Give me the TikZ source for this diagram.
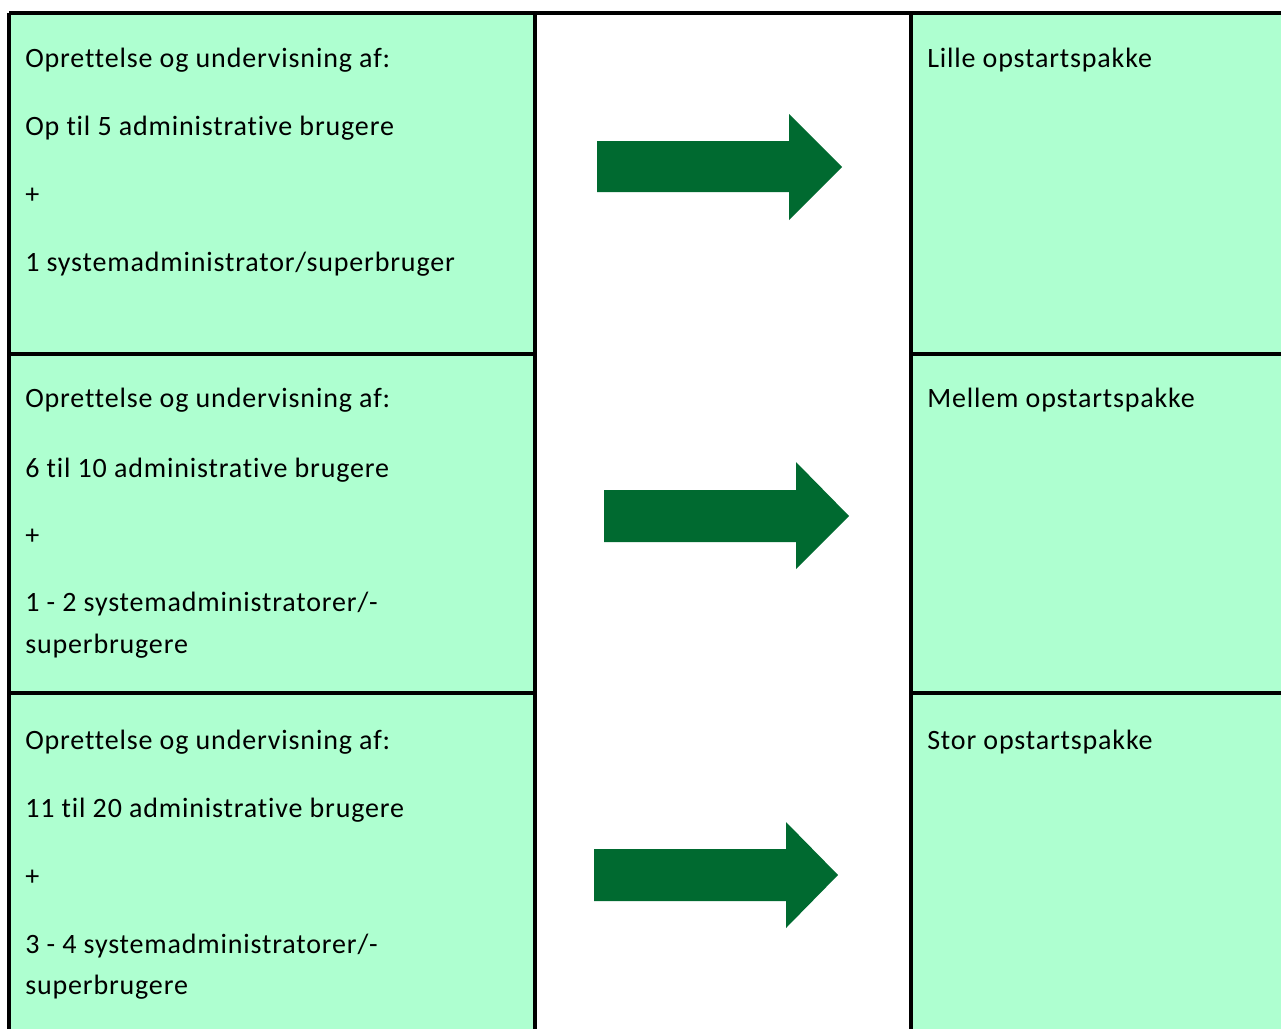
\documentclass[tikz,border=0pt]{standalone}
\usepackage{fontspec}
\setmainfont{Carlito}[Ligatures={NoCommon},LetterSpace=3]
\definecolor{cellgreen}{RGB}{174,255,208}
\definecolor{arrowgreen}{RGB}{0,106,48}
\begin{document}
\begin{tikzpicture}[x=0.75pt,y=-0.75pt,
  txt/.style={anchor=base west,inner sep=0pt,font=\fontsize{21}{25}\selectfont},
  rule/.style={line width=2.3pt,black},
  blockarrow/.style={fill=arrowgreen,draw=none}]
\useasboundingbox (0,0) rectangle (1281,1029);
\fill[white] (0,0) rectangle (1281,1029);
\fill[cellgreen] (9,13) rectangle (535,1029);
\fill[cellgreen] (911,13) rectangle (1281,1029);
% grid lines
\draw[rule] (9,13) -- (1281,13);
\draw[rule] (9,13) -- (9,1029);
\draw[rule] (535,13) -- (535,1029);
\draw[rule] (911,13) -- (911,1029);
\draw[rule] (9,354) -- (535,354);
\draw[rule] (911,354) -- (1281,354);
\draw[rule] (9,693) -- (535,693);
\draw[rule] (911,693) -- (1281,693);
% row 1
\node[txt] (a1) at (25,67) {Oprettelse og undervisning af:};
\node[txt] (a2) at (25,135) {Op til 5 administrative brugere};
\node[txt] (a3) at (25,203) {+};
\node[txt] (a4) at (25,271) {1 systemadministrator/superbruger};
% row 2
\node[txt] (b1) at (25,407) {Oprettelse og undervisning af:};
\node[txt] (b2) at (25,477) {6 til 10 administrative brugere};
\node[txt] (b3) at (25,544) {+};
\node[txt] (b4) at (25,611) {1 - 2 systemadministratorer/-};
\node[txt] (b5) at (25,653) {superbrugere};
% row 3
\node[txt] (c1) at (25,749) {Oprettelse og undervisning af:};
\node[txt] (c2) at (25,817) {11 til 20 administrative brugere};
\node[txt] (c3) at (25,885) {+};
\node[txt] (c4) at (25,953) {3 - 4 systemadministratorer/-};
\node[txt] (c5) at (25,994) {superbrugere};
% right column
\node[txt] (p1) at (927,67) {Lille opstartspakke};
\node[txt] (p2) at (927,407) {Mellem opstartspakke};
\node[txt] (p3) at (927,749) {Stor opstartspakke};
% arrows
\fill[blockarrow] (597,141) -- (789,141) -- (789,114) -- (842,167) -- (789,220) -- (789,192) -- (597,192) -- cycle;
\fill[blockarrow] (604,490) -- (796,490) -- (796,462) -- (849,516) -- (796,569) -- (796,542) -- (604,542) -- cycle;
\fill[blockarrow] (594,849) -- (786,849) -- (786,822) -- (838,875) -- (786,928) -- (786,901) -- (594,901) -- cycle;
\end{tikzpicture}
\end{document}
